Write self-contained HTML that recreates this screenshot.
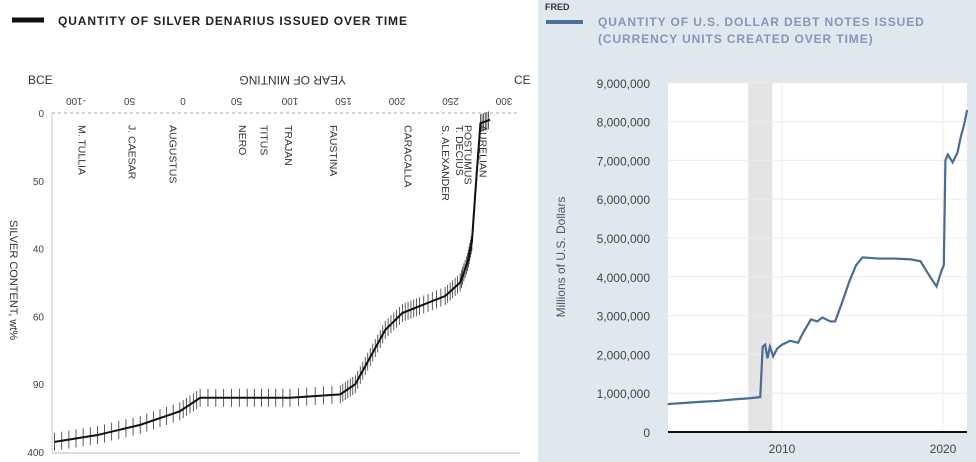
<!DOCTYPE html>
<html><head><meta charset="utf-8"><style>
body{margin:0;width:976px;height:462px;overflow:hidden;background:#fff;font-family:"Liberation Sans",sans-serif;}
#wrap{position:relative;width:976px;height:462px;}
</style></head><body><div id="wrap">
<svg id="svg" width="976" height="462" style="position:absolute;left:0;top:0">
<rect x="538" y="0" width="438" height="462" fill="#dfe7ef"/>
<rect x="668" y="83" width="299" height="349" fill="#fff"/>
<g id="left"></g>
<g id="right"></g>
<line x1="12" y1="20" x2="44" y2="20" stroke="#111" stroke-width="5"/>
<text x="58" y="25" font-size="12" font-weight="bold" fill="#222" letter-spacing="0.9">QUANTITY OF SILVER DENARIUS ISSUED OVER TIME</text>
<text x="545" y="10" font-size="9" font-weight="bold" fill="#333">FRED</text>
<line x1="546" y1="22" x2="583" y2="22" stroke="#4c6e98" stroke-width="4"/>
<text x="598" y="26" font-size="12" font-weight="bold" fill="#8a93b8" letter-spacing="0.9">QUANTITY OF U.S. DOLLAR DEBT NOTES ISSUED</text>
<text x="598" y="43" font-size="12" font-weight="bold" fill="#8a93b8" letter-spacing="0.9">(CURRENCY UNITS CREATED OVER TIME)</text>
<text x="28" y="84" font-size="12" fill="#333">BCE</text>
<text x="212" y="84" font-size="12" fill="#333" transform="rotate(180 279 80)">YEAR OF MINTING</text>
<text x="514" y="84" font-size="12" fill="#333">CE</text>
<text x="10" y="220" font-size="11" fill="#333" transform="rotate(90 10 220)">SILVER CONTENT, wt%</text>
<text x="565" y="257" font-size="12" fill="#556" text-anchor="middle" transform="rotate(-90 565 257)">Millions of U.S. Dollars</text>
</svg>
<script>
// Silver chart data
const silverYears=[-120,-80,-40,-3,16,60,100,147,161,175,189,205,221,245,259,266,270,274,278,287];
const silverContent=[97,95,92,88,84,84,84,83,80,72,64,59,57,54,50,44,38,20,3,2];
const silverTickYears=[-100,-50,0,50,100,150,200,250,300];
const silverTickLabels=["-100","50","0","50","100","150","200","250","300"];
const silverYTicks=[0,20,40,60,80,100];
const silverYLabels=["0","50","40","60","90","400"];
const emperorYears=[-95,-48,-10,55,75,98,140,210,245,258,266,280];
const emperorNames=["M. TULLIA","J. CAESAR","AUGUSTUS","NERO","TITUS","TRAJAN","FAUSTINA","CARACALLA","S. ALEXANDER","T. DECIUS","POSTUMUS","AURELIAN"];
// FRED data
const fredYears=[2002.9,2004,2005,2006,2007,2008,2008.65,2008.8,2008.95,2009.1,2009.25,2009.45,2009.7,2010,2010.5,2011,2011.3,2011.8,2012.2,2012.5,2013,2013.3,2013.7,2014.2,2014.6,2015,2016,2017,2018,2018.6,2019.2,2019.6,2019.9,2020.05,2020.15,2020.3,2020.6,2020.9,2021.1,2021.3,2021.5];
const fredValues=[0.72,0.75,0.78,0.8,0.84,0.87,0.9,2.2,2.25,1.9,2.2,1.95,2.15,2.25,2.35,2.3,2.55,2.9,2.85,2.95,2.85,2.85,3.3,3.9,4.3,4.5,4.47,4.47,4.45,4.4,4.0,3.75,4.15,4.3,7.0,7.15,6.95,7.2,7.6,7.9,8.3];
const fredYTicks=[0,1,2,3,4,5,6,7,8,9];
const fredYLabels=["0","1,000,000","2,000,000","3,000,000","4,000,000","5,000,000","6,000,000","7,000,000","8,000,000","9,000,000"];
const fredXTicks=[2010,2020];
const recession=[2007.9,2009.4];

const NS="http://www.w3.org/2000/svg";
function mk(parent,tag,attrs){const e=document.createElementNS(NS,tag);for(const k in attrs)e.setAttribute(k,attrs[k]);parent.appendChild(e);return e;}
const sx=y=>183+y*1.07, sy=v=>113+v*3.39;
const fx=y=>782+(y-2010)*16.1, fy=v=>432-v*38.8;
const L=document.getElementById('left'), R=document.getElementById('right');

let e=mk(L,'line',{x1:52,y1:113,x2:52,y2:452,stroke:'#ccc','stroke-width':1});


e=mk(L,'line',{x1:52,y1:113,x2:520,y2:113,stroke:'#aaa','stroke-width':1,'stroke-dasharray':'3 3'});


e=mk(L,'line',{x1:52,y1:453,x2:520,y2:453,stroke:'#bbb','stroke-width':1});


silverTickYears.forEach((yr,i)=>{const t=mk(L,'text',{x:sx(yr),y:104,'font-size':10,fill:'#444','text-anchor':'middle',transform:`rotate(180 ${sx(yr)} 101)`});t.textContent=silverTickLabels[i];

});
silverYTicks.forEach((v,i)=>{const t=mk(L,'text',{x:44,y:sy(v)+4,'font-size':10,fill:'#444','text-anchor':'end'});t.textContent=silverYLabels[i];

});
emperorYears.forEach((yr,i)=>{const x=sx(yr);const t=mk(L,'text',{x:x,y:122,'font-size':10.5,fill:'#333',transform:`rotate(90 ${x-3} 122)`});t.textContent=emperorNames[i];

});
for(let i=0;i<silverYears.length-1;i++){const n=6;for(let k=0;k<n;k++){const f=k/n;const yr=silverYears[i]+(silverYears[i+1]-silverYears[i])*f;const v=silverContent[i]+(silverContent[i+1]-silverContent[i])*f;
const b=mk(L,'line',{x1:sx(yr),x2:sx(yr),y1:sy(v)-9,y2:sy(v)+9,stroke:'#333','stroke-width':0.8});

}}
e=mk(L,'polyline',{points:silverYears.map((y,i)=>sx(y)+','+sy(silverContent[i])).join(' '),fill:'none',stroke:'#111','stroke-width':2});



e=mk(R,'rect',{x:fx(recession[0]),y:83,width:fx(recession[1])-fx(recession[0]),height:349,fill:'#e4e4e4'});


fredYTicks.forEach((v,i)=>{if(v>0){const g=mk(R,'line',{x1:668,x2:967,y1:fy(v),y2:fy(v),stroke:'#ececec'});

}
const t=mk(R,'text',{x:650,y:fy(v)+5,'font-size':12,fill:'#444','text-anchor':'end'});t.textContent=fredYLabels[i];

});
fredXTicks.forEach(yr=>{const g=mk(R,'line',{x1:fx(yr),x2:fx(yr),y1:83,y2:432,stroke:'#ececec'});


const t=mk(R,'text',{x:fx(yr),y:453,'font-size':12,fill:'#444','text-anchor':'middle'});t.textContent=String(yr);

});
e=mk(R,'line',{x1:668,x2:967,y1:432,y2:432,stroke:'#111','stroke-width':2});


e=mk(R,'polyline',{points:fredYears.map((y,i)=>fx(y)+','+fy(fredValues[i])).join(' '),fill:'none',stroke:'#4a6b94','stroke-width':2.2});


</script>
</div></body></html>
